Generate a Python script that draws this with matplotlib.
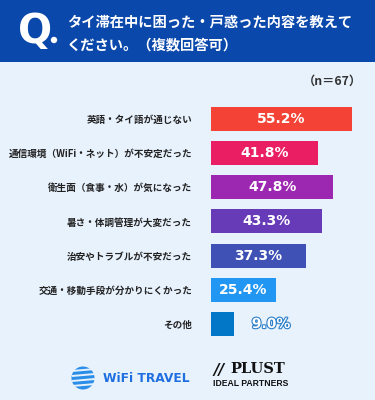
"""タイ滞在中に困ったことの横棒グラフ。"""

import matplotlib.pyplot as plt
import matplotlib.patheffects as pe
from matplotlib.patches import Rectangle, Circle

plt.rcParams["font.family"] = ["Noto Sans CJK JP", "DejaVu Sans"]

CATEGORIES = [
    "英語・タイ語が通じない",
    "通信環境（WiFi・ネット）が不安定だった",
    "衛生面（食事・水）が気になった",
    "暑さ・体調管理が大変だった",
    "治安やトラブルが不安だった",
    "交通・移動手段が分かりにくかった",
    "その他",
]
VALUES = [55.2, 41.8, 47.8, 43.3, 37.3, 25.4, 9.0]
COLORS = ["#F44336", "#E91E63", "#9C27B0", "#673AB7", "#3F51B5", "#2196F3", "#0277C8"]
TITLE_LINES = ["タイ滞在中に困った・戸惑った内容を教えて", "ください。（複数回答可）"]
N_LABEL = "（n＝67）"

W, H = 375, 400
BG = "#E8F2FD"
HEADER = "#0A48AC"

fig = plt.figure(figsize=(W / 100, H / 100), dpi=100, facecolor=BG)

# 背景レイヤー（ピクセル座標）
bg = fig.add_axes([0, 0, 1, 1])
bg.set_xlim(0, W)
bg.set_ylim(H, 0)
bg.axis("off")
bg.add_patch(Rectangle((0, 0), W, 62, color=HEADER, lw=0))
bg.text(18, 32, "Q", color="white", fontsize=29, fontweight="bold",
        ha="left", va="center", family="DejaVu Sans")
bg.add_patch(Circle((54, 40), 3.2, color="white", lw=0))
bg.text(67, 23, TITLE_LINES[0], color="white", fontsize=10.3, fontweight="bold",
        ha="left", va="center")
bg.text(67, 45, TITLE_LINES[1], color="white", fontsize=10.3, fontweight="bold",
        ha="left", va="center")
bg.text(362, 81, N_LABEL, color="#333333", fontsize=8.8, fontweight="bold",
        ha="right", va="center")

# ロゴ（簡易）
bg.add_patch(Circle((83, 378), 11.5, color="#2A8EE8", lw=0))
for yy in (371, 376, 381, 386):
    bg.plot([72, 95], [yy, yy - 2], color=BG, lw=1.4, solid_capstyle="butt")
bg.text(103, 379, "WiFi TRAVEL", color="#1F6FE0", fontsize=8.8, fontweight="heavy",
        ha="left", va="center", family="DejaVu Sans")
bg.text(213, 370, "//", color="#111111", fontsize=11, fontweight="bold",
        ha="left", va="center", family="DejaVu Sans", style="italic")
bg.text(230, 369, "PLUST", color="#111111", fontsize=10.5, fontweight="heavy",
        ha="left", va="center", family="DejaVu Serif")
bg.text(213, 384, "IDEAL PARTNERS", color="#111111", fontsize=6.2, fontweight="bold",
        ha="left", va="center", family="Liberation Sans", stretch="condensed")

# 棒グラフ
ax = fig.add_axes([211 / W, 1 - 341.1 / H, 154 / W, 239.5 / H])
ax.set_facecolor("none")
ypos = list(range(len(CATEGORIES)))
ax.barh(ypos, VALUES, height=0.7, color=COLORS, edgecolor="none")
ax.set_xlim(0, 154 / 2.556)
ax.set_ylim(len(CATEGORIES) - 0.5, -0.5)
ax.set_yticks(ypos)
ax.set_yticklabels(CATEGORIES, fontsize=6.9, fontweight="bold", color="#222222")
ax.tick_params(axis="y", length=0, pad=13.5)
ax.set_xticks([])
for side in ax.spines.values():
    side.set_visible(False)

for y, v, c in zip(ypos, VALUES, COLORS):
    label = f"{v:.1f}%"
    if v > 15:
        ax.text(v / 2, y, label, color="white", fontsize=10, fontweight="bold",
                ha="center", va="center", family="DejaVu Sans")
    else:
        t = ax.text(v + 14.5, y, label, color="white", fontsize=10, fontweight="bold",
                    ha="center", va="center", family="DejaVu Sans")
        t.set_path_effects([pe.Stroke(linewidth=1.6, foreground="#2A7EC8"), pe.Normal()])

fig.savefig("out.png", dpi=100, facecolor=BG)
